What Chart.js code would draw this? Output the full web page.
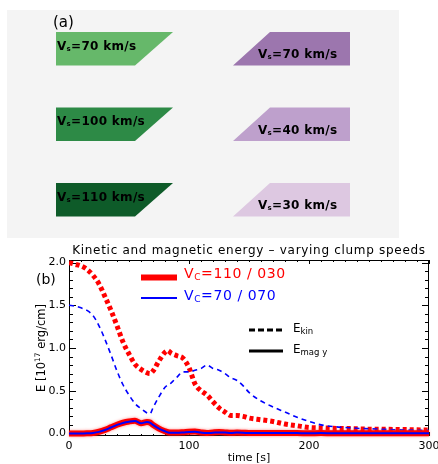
<!DOCTYPE html>
<html>
<head>
<meta charset="utf-8">
<script src="https://cdn.jsdelivr.net/npm/chart.js@4.4.1/dist/chart.umd.min.js"></script>
<style>
html, body { margin: 0; padding: 0; background: #fff; }
#wrap { position: relative; width: 438px; height: 464px; }
canvas { position: absolute; left: 0; }
#clumps { top: 0; }
#energy { top: 240px; }
</style>
</head>
<body>
<div id="wrap">
  <canvas id="clumps" width="438" height="240"></canvas>
  <canvas id="energy" width="438" height="224"></canvas>
</div>
<script>
// ---- panel (a): clump speeds ----
const leftSpeeds = [70, 100, 110];
const rightSpeeds = [70, 40, 30];
const leftColors = ['#66b86a', '#2d8a46', '#0e5b29'];
const rightColors = ['#9c76ae', '#bea0cc', '#ddc8e1'];

// ---- panel (b): energies (time in s, E in 1e17 erg/cm) ----
const timeS = [0, 5, 10, 15, 20, 25, 30, 35, 40, 45, 50, 55, 60, 65, 67.5, 70, 75, 80, 82.5,
  85, 90, 95, 100, 105, 110, 115, 120, 125, 130, 135, 140, 145, 150,
  160, 170, 180, 190, 200, 210, 220, 230, 240, 250, 260, 270, 280, 290, 300];
// Vc = 110 / 030 (red)
const ekinFast = [2.00, 1.98, 1.96, 1.92, 1.85, 1.75, 1.60, 1.44, 1.26, 1.07, 0.93, 0.81, 0.75, 0.71, 0.70,
  0.73, 0.85, 0.95, 0.97, 0.94, 0.91, 0.88, 0.77, 0.58, 0.50, 0.45, 0.37, 0.30, 0.25, 0.21, 0.21, 0.20, 0.18,
  0.16, 0.14, 0.11, 0.09, 0.07, 0.065, 0.06, 0.058, 0.055, 0.05, 0.05, 0.047, 0.045, 0.042, 0.04];
const emagFast = [0.0, 0.0, 0.0, 0.002, 0.006, 0.02, 0.042, 0.072, 0.102, 0.125, 0.14, 0.148, 0.12, 0.135, 0.128,
  0.10, 0.057, 0.026, 0.014, 0.01, 0.01, 0.014, 0.02, 0.022, 0.012, 0.006, 0.012, 0.016, 0.012, 0.008, 0.01, 0.008, 0.005,
  0.006, 0.005, 0.004, 0.004, 0.003, 0.004, 0.003, 0.003, 0.003, 0.003, 0.002, 0.002, 0.002, 0.002, 0.002];
// Vc = 70 / 070 (blue)
const ekinSlow = [1.50, 1.49, 1.47, 1.44, 1.38, 1.26, 1.10, 0.92, 0.73, 0.57, 0.45, 0.35, 0.29, 0.24, 0.23,
  0.30, 0.43, 0.54, 0.57, 0.59, 0.66, 0.72, 0.72, 0.74, 0.76, 0.80, 0.76, 0.74, 0.70, 0.65, 0.62, 0.56, 0.48,
  0.38, 0.31, 0.25, 0.19, 0.14, 0.10, 0.08, 0.07, 0.06, 0.055, 0.05, 0.045, 0.04, 0.038, 0.035];
const emagSlow = [0.0, 0.0, 0.0, 0.002, 0.006, 0.018, 0.04, 0.07, 0.10, 0.123, 0.138, 0.147, 0.118, 0.134, 0.127,
  0.10, 0.055, 0.025, 0.012, 0.008, 0.008, 0.012, 0.018, 0.02, 0.01, 0.004, 0.008, 0.012, 0.01, 0.006, 0.01, 0.008, 0.004,
  0.006, 0.004, 0.005, 0.004, 0.003, 0.004, 0.003, 0.003, 0.002, 0.002, 0.002, 0.002, 0.002, 0.002, 0.002];

const xTickLabels = [0, 100, 200, 300];
const yTickLabels = [0, 0.5, 1.0, 1.5, 2.0];

Chart.defaults.font.family = 'DejaVu Sans';

// draw text made of pieces (for subscripts / superscripts)
function drawParts(ctx, x, y, parts, align) {
  let w = 0;
  parts.forEach(p => { ctx.font = p[1]; w += ctx.measureText(p[0]).width; });
  let cx = align === 'center' ? x - w / 2 : x;
  parts.forEach(p => {
    ctx.font = p[1];
    ctx.fillText(p[0], cx, y + (p[2] || 0));
    cx += ctx.measureText(p[0]).width;
  });
}

// ================= panel (a) =================
const rowTop = [32, 107.5, 183];
const rowH = 33.5;

function leftShape(top) {
  return [{x: 56, y: top}, {x: 173, y: top}, {x: 135, y: top + rowH}, {x: 56, y: top + rowH}, {x: 56, y: top}];
}
function rightShape(top) {
  return [{x: 270, y: top}, {x: 350, y: top}, {x: 350, y: top + rowH}, {x: 233, y: top + rowH}, {x: 270, y: top}];
}

const clumpSets = [];
leftSpeeds.forEach((v, i) => clumpSets.push({
  label: 'left ' + v, data: leftShape(rowTop[i]), backgroundColor: leftColors[i],
  borderWidth: 0, fill: 'shape', pointRadius: 0, tension: 0
}));
rightSpeeds.forEach((v, i) => clumpSets.push({
  label: 'right ' + v, data: rightShape(rowTop[i]), backgroundColor: rightColors[i],
  borderWidth: 0, fill: 'shape', pointRadius: 0, tension: 0
}));

const clumpPlugin = {
  id: 'clumpPanel',
  beforeDatasetsDraw(chart) {
    const {ctx, scales: {x, y}} = chart;
    ctx.save();
    ctx.fillStyle = '#f4f4f4';
    ctx.fillRect(x.getPixelForValue(7), y.getPixelForValue(10),
      x.getPixelForValue(399) - x.getPixelForValue(7), y.getPixelForValue(238) - y.getPixelForValue(10));
    ctx.restore();
  },
  afterDatasetsDraw(chart) {
    const {ctx, scales: {x, y}} = chart;
    ctx.save();
    ctx.fillStyle = '#000';
    ctx.textBaseline = 'alphabetic';
    ctx.font = '15px DejaVu Sans';
    ctx.fillText('(a)', x.getPixelForValue(53), y.getPixelForValue(27));
    ctx.letterSpacing = '0.3px';
    leftSpeeds.forEach((v, i) => {
      drawParts(ctx, x.getPixelForValue(57), y.getPixelForValue(rowTop[i] + 17.5), [
        ['V', 'bold 12px DejaVu Sans'], ['s', 'bold 7px DejaVu Sans', 1], ['=' + v + ' km/s', 'bold 12px DejaVu Sans']
      ]);
    });
    rightSpeeds.forEach((v, i) => {
      drawParts(ctx, x.getPixelForValue(258), y.getPixelForValue(rowTop[i] + 26), [
        ['V', 'bold 12px DejaVu Sans'], ['s', 'bold 7px DejaVu Sans', 1], ['=' + v + ' km/s', 'bold 12px DejaVu Sans']
      ]);
    });
    ctx.restore();
  }
};

new Chart(document.getElementById('clumps'), {
  type: 'line',
  data: {datasets: clumpSets},
  options: {
    responsive: false, animation: false, events: [],
    layout: {padding: 0},
    plugins: {legend: {display: false}, tooltip: {enabled: false}},
    scales: {
      x: {type: 'linear', min: 0, max: 438, display: false},
      y: {type: 'linear', min: 0, max: 240, reverse: true, display: false}
    }
  },
  plugins: [clumpPlugin]
});

// ================= panel (b) =================
function pts(vals) { return timeS.map((t, i) => ({x: t, y: vals[i]})); }

function minorTicks(lo, hi, step) {
  const out = [];
  for (let v = lo; v <= hi + 1e-9; v += step) out.push(Math.round(v * 1000) / 1000);
  return out;
}

const framePlugin = {
  id: 'idlFrame',
  beforeDatasetsDraw(chart) {
    const {ctx, chartArea: ca, scales: {x, y}} = chart;
    ctx.save();
    ctx.strokeStyle = '#000';
    ctx.lineWidth = 1;
    ctx.strokeRect(ca.left + 0.5, ca.top + 0.5, ca.right - ca.left - 1, ca.bottom - ca.top - 1);
    ctx.beginPath();
    minorTicks(0, 2.0, 0.1).forEach(v => {
      const py = Math.round(y.getPixelForValue(v)) + 0.5;
      const len = yTickLabels.some(t => Math.abs(t - v) < 1e-6) ? 7 : 4;
      ctx.moveTo(ca.left, py); ctx.lineTo(ca.left + len, py);
      ctx.moveTo(ca.right, py); ctx.lineTo(ca.right - len, py);
    });
    minorTicks(0, 300, 10).forEach(v => {
      const px = Math.round(x.getPixelForValue(v)) + 0.5;
      const len = xTickLabels.includes(v) ? 4 : 2;
      ctx.moveTo(px, ca.bottom); ctx.lineTo(px, ca.bottom - len);
      ctx.moveTo(px, ca.top); ctx.lineTo(px, ca.top + len);
    });
    ctx.stroke();
    ctx.restore();
  },
  beforeDatasetDraw(chart, args) {
    if (args.index === 1) {
      chart.ctx.save();
      chart.ctx.shadowColor = 'rgba(255,60,60,0.6)';
      chart.ctx.shadowBlur = 3;
    }
  },
  afterDatasetDraw(chart, args) {
    if (args.index === 1) chart.ctx.restore();
  },
  afterDraw(chart) {
    const {ctx, chartArea: ca} = chart;
    const cx = (ca.left + ca.right) / 2;
    ctx.save();
    ctx.fillStyle = '#000';
    ctx.textBaseline = 'alphabetic';
    // title
    ctx.letterSpacing = '0.7px';
    ctx.textAlign = 'center';
    ctx.font = '12px DejaVu Sans';
    ctx.fillText('Kinetic and magnetic energy \u2013 varying clump speeds', cx, 14);
    ctx.textAlign = 'left';
    ctx.letterSpacing = '0px';
    // axis titles
    drawParts(ctx, cx, 221, [['time [s]', '11px DejaVu Sans']], 'center');
    ctx.save();
    ctx.translate(45, 108);
    ctx.rotate(-Math.PI / 2);
    drawParts(ctx, 0, 0, [['E [10', '11.5px DejaVu Sans'], ['17', '7.5px DejaVu Sans', -5], [' erg/cm]', '11.5px DejaVu Sans']], 'center');
    ctx.restore();
    // panel label
    ctx.font = '14px DejaVu Sans';
    ctx.fillText('(b)', 36, 44);
    // legend: runs
    ctx.lineCap = 'butt';
    ctx.strokeStyle = '#ff0000';
    ctx.lineWidth = 6;
    ctx.beginPath(); ctx.moveTo(ca.left + 72, ca.top + 17.5); ctx.lineTo(ca.left + 108, ca.top + 17.5); ctx.stroke();
    ctx.strokeStyle = '#0000ff';
    ctx.lineWidth = 2;
    ctx.beginPath(); ctx.moveTo(ca.left + 72, ca.top + 38); ctx.lineTo(ca.left + 108, ca.top + 38); ctx.stroke();
    ctx.letterSpacing = '0.6px';
    ctx.fillStyle = '#ff0000';
    drawParts(ctx, ca.left + 115, ca.top + 18, [['V', '14px DejaVu Sans'], ['C', '9px DejaVu Sans', 1.5], ['=110 / 030', '14px DejaVu Sans']]);
    ctx.fillStyle = '#0000ff';
    drawParts(ctx, ca.left + 115, ca.top + 40, [['V', '14px DejaVu Sans'], ['C', '9px DejaVu Sans', 1.5], ['=70 / 070', '14px DejaVu Sans']]);
    ctx.letterSpacing = '0px';
    // legend: energies
    ctx.strokeStyle = '#000';
    ctx.lineWidth = 3;
    ctx.setLineDash([6, 3]);
    ctx.beginPath(); ctx.moveTo(ca.left + 180, ca.top + 70); ctx.lineTo(ca.left + 214, ca.top + 70); ctx.stroke();
    ctx.setLineDash([]);
    ctx.beginPath(); ctx.moveTo(ca.left + 180, ca.top + 91); ctx.lineTo(ca.left + 214, ca.top + 91); ctx.stroke();
    ctx.fillStyle = '#000';
    drawParts(ctx, ca.left + 224, ca.top + 72, [['E', '12px DejaVu Sans'], ['kin', '8.5px DejaVu Sans', 2]]);
    drawParts(ctx, ca.left + 224, ca.top + 93, [['E', '12px DejaVu Sans'], ['mag y', '8.5px DejaVu Sans', 2]]);
    ctx.restore();
  }
};

new Chart(document.getElementById('energy'), {
  type: 'line',
  data: {
    datasets: [
      {label: 'E_mag y 70/070', data: pts(emagSlow), borderColor: '#0000ff', borderWidth: 2, clip: false},
      {label: 'E_mag y 110/030', data: pts(emagFast), borderColor: '#ff0000', borderWidth: 6, clip: false},
      {label: 'E_kin 70/070', data: pts(ekinSlow), borderColor: '#0000ff', borderWidth: 1.6, borderDash: [5, 4]},
      {label: 'E_kin 110/030', data: pts(ekinFast), borderColor: '#ff0000', borderWidth: 5, borderDash: [4, 3]}
    ]
  },
  options: {
    responsive: false, animation: false, events: [],
    layout: {padding: {top: 20, right: 9, left: 0, bottom: 0}},
    elements: {
      point: {radius: 0},
      line: {cubicInterpolationMode: 'monotone', borderCapStyle: 'butt', fill: false}
    },
    plugins: {legend: {display: false}, tooltip: {enabled: false}, title: {display: false}},
    scales: {
      x: {
        type: 'linear', min: 0, max: 300,
        grid: {display: false, drawTicks: false}, border: {display: false},
        afterBuildTicks: s => { s.ticks = xTickLabels.map(v => ({value: v})); },
        afterFit: s => { s.height = 28; s.paddingLeft = 0; s.paddingRight = 0; },
        ticks: {font: {size: 11}, color: '#000', padding: 4, maxRotation: 0, autoSkip: false}
      },
      y: {
        type: 'linear', min: -0.03, max: 2.03,
        grid: {display: false, drawTicks: false}, border: {display: false},
        afterBuildTicks: s => { s.ticks = yTickLabels.map(v => ({value: v})); },
        afterFit: s => { s.width = 69; s.paddingTop = 0; s.paddingBottom = 0; },
        ticks: {font: {size: 11}, color: '#000', padding: 3, callback: v => v.toFixed(1)}
      }
    }
  },
  plugins: [framePlugin]
});
</script>
</body>
</html>
